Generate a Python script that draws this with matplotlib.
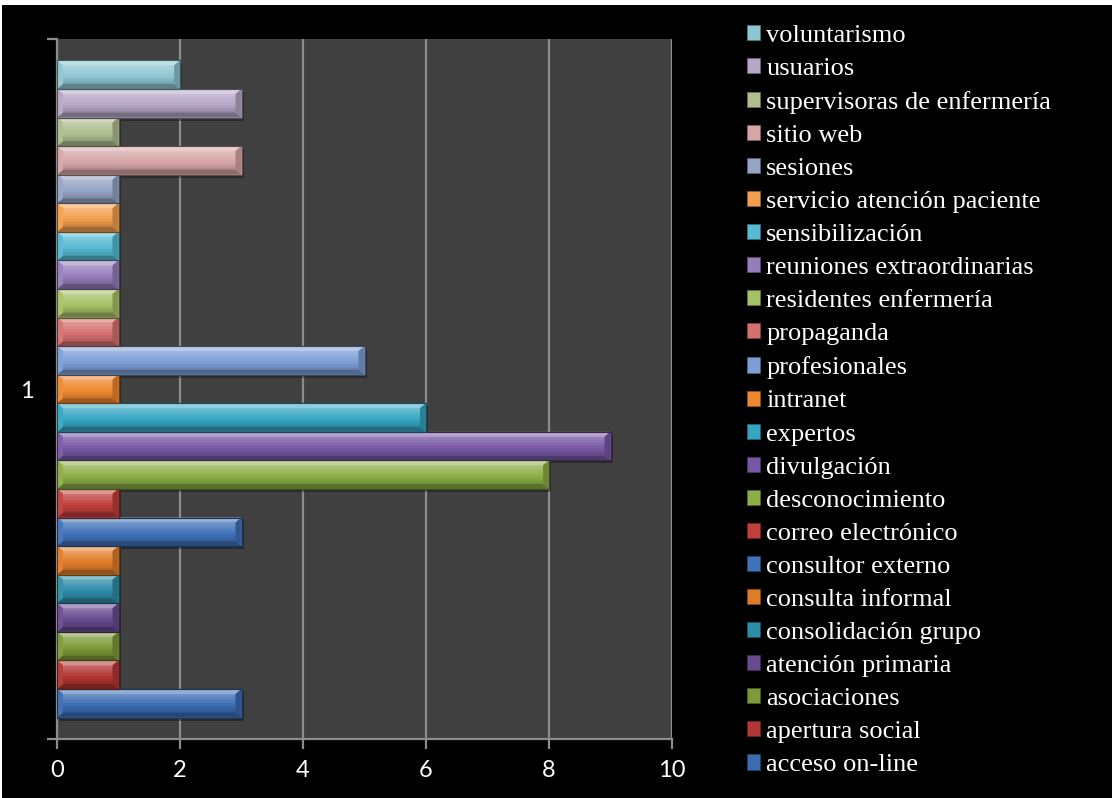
import matplotlib
matplotlib.use("Agg")
import matplotlib.pyplot as plt
from matplotlib.patches import Polygon, Rectangle, Patch
from matplotlib.colors import to_rgb
import numpy as np

# Series (bottom to top), their counts and colours
series = [
    "acceso on-line", "apertura social", "asociaciones", "atención primaria",
    "consolidación grupo", "consulta informal", "consultor externo",
    "correo electrónico", "desconocimiento", "divulgación", "expertos",
    "intranet", "profesionales", "propaganda", "residentes enfermería",
    "reuniones extraordinarias", "sensibilización",
    "servicio atención paciente", "sesiones", "sitio web",
    "supervisoras de enfermería", "usuarios", "voluntarismo",
]
values = [3, 1, 1, 1, 1, 1, 3, 1, 8, 9, 6, 1, 5, 1, 1, 1, 1, 1, 1, 3, 1, 3, 2]
colors = [
    "#3A6CB2", "#B23633", "#7C9A38", "#684A90", "#2D8CA8", "#E07C28",
    "#3F72B8", "#C03E3B", "#8BAE46", "#7858A6", "#36A6C2", "#EE8830",
    "#7C9ED6", "#D4716E", "#A6C266", "#967EBC", "#56BAD2", "#F39E4E",
    "#94A4C4", "#D6A6A6", "#AEBE8E", "#B6A6C6", "#8EC6D2",
]
category = "1"
xticks = [0, 2, 4, 6, 8, 10]


def mix(c, other, t):
    c = np.array(to_rgb(c))
    o = np.array(to_rgb(other))
    return tuple(np.clip(c * (1 - t) + o * t, 0, 1))


def shade(c, s):
    """s > 0 lightens towards white, s < 0 darkens towards black."""
    return mix(c, "white", s) if s >= 0 else mix(c, "black", -s)


W, H, DPI = 1112, 798, 100
fig = plt.figure(figsize=(W / DPI, H / DPI), dpi=DPI, facecolor="white")
# black chart area with a thin white frame at top/left
fig.patches.append(Rectangle((2 / W, 0), 1, 1 - 5 / H, transform=fig.transFigure,
                             facecolor="black", edgecolor="none", zorder=-5))

left, right, top, bottom = 57, 672, 39, 739
ax = fig.add_axes([left / W, 1 - bottom / H, (right - left) / W, (bottom - top) / H])
ax.set_zorder(1)
ax.set_facecolor("#404040")
ax.set_xlim(0, 10)
ax.set_ylim(0.5, 1.5)

n = len(series)
h = 1.0 / (n + 1.5)
ys = 1 - n * h / 2 + h * (np.arange(n) + 0.5)

bars = ax.barh(ys, values, height=h, color=colors, zorder=3,
               edgecolor=[mix(c, "black", 0.5) for c in colors], linewidth=0.8)

# bevel shading on each bar
px_x = 10 / (right - left)
px_y = 1.0 / (bottom - top)
bx, by = 6 * px_x, 5 * px_y
nstrip = 12
for rect, c in zip(bars, colors):
    x0, y0 = rect.get_x(), rect.get_y()
    x1, y1 = x0 + rect.get_width(), y0 + rect.get_height()
    # soft shadow below/right
    ax.add_patch(Rectangle((x0 + 2 * px_x, y0 - 3 * px_y), x1 - x0, y1 - y0,
                           facecolor=(0, 0, 0, 0.35), edgecolor="none", zorder=2))
    # face with vertical gradient (lighter at top)
    fy0, fy1 = y0 + by, y1 - by
    edges = np.linspace(fy0, fy1, nstrip + 1)
    for k in range(nstrip):
        t = (k + 0.5) / nstrip          # 0 bottom .. 1 top
        s = -0.18 + 0.45 * t
        ax.add_patch(Rectangle((x0 + bx, edges[k]), x1 - x0 - 2 * bx, edges[k + 1] - edges[k],
                               facecolor=shade(c, s), edgecolor="none", zorder=4))
    faces = [
        ([(x0, y1), (x1, y1), (x1 - bx, y1 - by), (x0 + bx, y1 - by)], shade(c, 0.45)),
        ([(x0, y0), (x1, y0), (x1 - bx, y0 + by), (x0 + bx, y0 + by)], shade(c, -0.35)),
        ([(x0, y0), (x0 + bx, y0 + by), (x0 + bx, y1 - by), (x0, y1)], shade(c, 0.05)),
        ([(x1, y0), (x1 - bx, y0 + by), (x1 - bx, y1 - by), (x1, y1)], shade(c, -0.22)),
    ]
    for pts, fc in faces:
        ax.add_patch(Polygon(pts, closed=True, facecolor=fc, edgecolor="none", zorder=4))
    ax.add_patch(Rectangle((x0, y0), x1 - x0, y1 - y0, facecolor="none",
                           edgecolor=mix(c, "black", 0.55), linewidth=0.8, zorder=5))

grid_c = "#8C8C8C"
ax.set_xticks(xticks)
ax.xaxis.grid(True, color=grid_c, linewidth=1.6, zorder=1)
ax.set_axisbelow(True)
ax.tick_params(axis="x", colors=grid_c, length=7, width=1.6, labelcolor="white",
               labelsize=17, pad=8)
for lab in ax.get_xticklabels():
    lab.set_fontfamily("Lato")

ax.set_yticks([0.5, 1.5])
ax.set_yticklabels([])
ax.set_yticks([1.0], minor=True)
ax.set_yticklabels([category], minor=True, fontsize=17, color="white", fontfamily="Lato")
ax.tick_params(axis="y", which="major", colors=grid_c, length=7, width=1.6)
ax.tick_params(axis="y", which="minor", length=0, pad=17)

for s in ["top", "right"]:
    ax.spines[s].set_visible(False)
for s in ["left", "bottom"]:
    ax.spines[s].set_color(grid_c)
    ax.spines[s].set_linewidth(1.6)

handles = [Patch(facecolor=c, edgecolor=mix(c, "black", 0.4), linewidth=0.6) for c in colors]
leg = fig.legend(handles[::-1], series[::-1], loc="upper left",
                 bbox_to_anchor=(736 / W, 1 - 14 / H), frameon=False,
                 prop={"family": "Liberation Serif", "size": 19},
                 labelcolor="white", handlelength=0.5, handleheight=0.5,
                 handletextpad=0.25, labelspacing=0.42, borderaxespad=0)

fig.savefig("out.png", dpi=DPI, facecolor=fig.get_facecolor())
